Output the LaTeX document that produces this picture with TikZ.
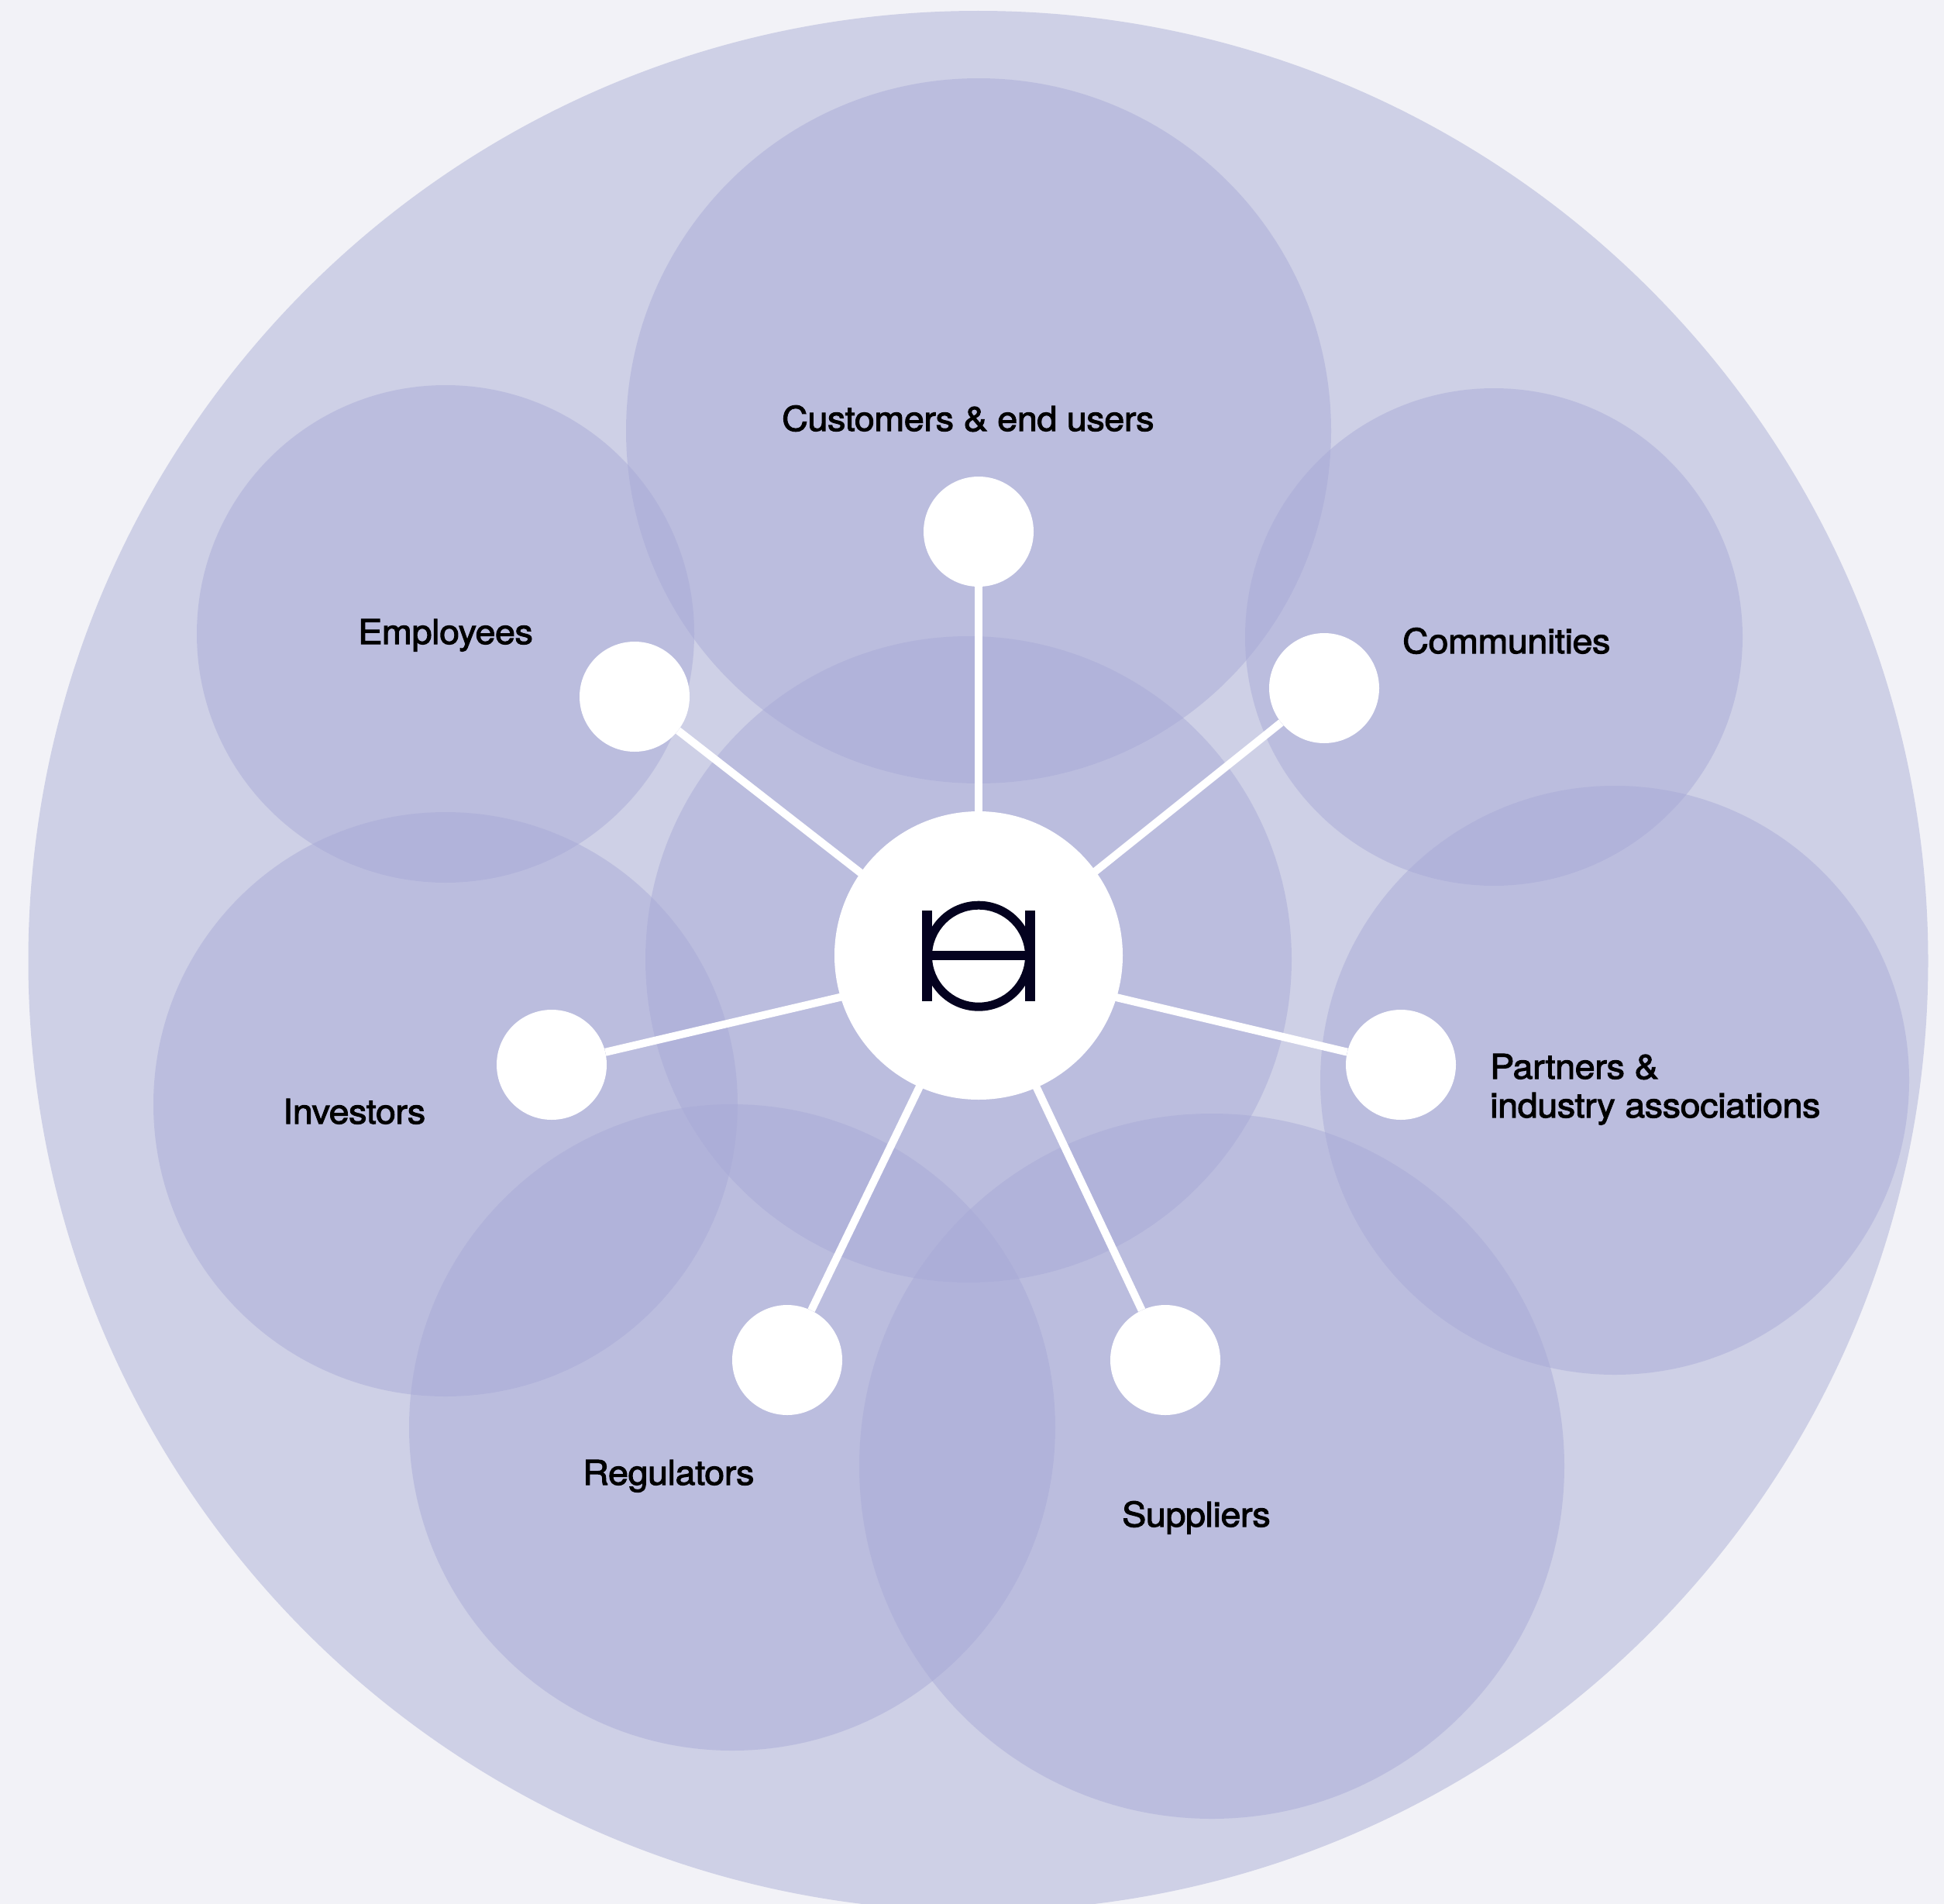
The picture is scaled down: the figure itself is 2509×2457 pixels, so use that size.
\documentclass[tikz,border=0pt]{standalone}
\usepackage{fontspec}
\usepackage{xcolor}
\setmainfont{TeX Gyre Heros}[FakeBold=2.4,FakeStretch=1.06,LetterSpace=-0.9]
\definecolor{paper}{HTML}{F2F2F7}
\definecolor{outerblob}{HTML}{CED0E6}
\definecolor{innerblob}{HTML}{A6A8D6}
\definecolor{ink}{HTML}{04021F}
\begin{document}
\begin{tikzpicture}[
                x=1pt, y=-1pt,
                every node/.append style = {inner sep=0pt},
                blob/.style = {circle, fill=innerblob, fill opacity=0.45, minimum size=2*#1},
                dot/.style = {circle, fill=white, minimum size=142pt},
                spoke/.style = {draw=white, line width=10pt},
                tag/.style = {anchor=base west, font=\fontsize{44}{50}\selectfont, text=black, align=left}]
            \useasboundingbox (0,0) rectangle (2509,2457);
            \fill[paper] (0,0) rectangle (2509,2457);
            \clip (0,0) rectangle (2509,2457);
            \node[circle, fill=outerblob, minimum size=2452pt] (outer) at (1262.5,1240) {};
            \foreach \blobname/\x/\y/\r in {customersblob/1263/556/455, employeesblob/575/818/321,
                communitiesblob/1928/822/321, coreblob/1250/1238/417, investorsblob/575/1425/377,
                partnersblob/2084/1394/380, regulatorsblob/945/1842/417, suppliersblob/1564/1892/455}
                \node[blob=\r pt] (\blobname) at (\x,\y) {};
            \coordinate (root) at (1263,1245);
            \foreach \dotname/\x/\y in {customers/1263/686, employees/819/899, communities/1709/888,
                partners/1808/1374, investors/712/1374, regulators/1016/1755, suppliers/1504/1755} {
                \node[dot] (\dotname) at (\x,\y) {};
                \draw[spoke] (root) -- (\dotname);
            }
            \node[circle, fill=white, minimum size=372pt] (hub) at (1263,1233) {};
            \node[tag] (customerstag) at (1009,556) {Customers \& end users};
            \node[tag] (employeestag) at (462,831) {Employees};
            \node[tag] (communitiestag) at (1810,843) {Communities};
            \node[tag] (partnerstag) at (1923,1442) {Partners \&\\industry associations};
            \node[tag] (investorstag) at (365,1450) {Investors};
            \node[tag] (regulatorstag) at (752,1916) {Regulators};
            \node[tag] (supplierstag) at (1448,1970) {Suppliers};
            \fill[ink, even odd rule] (1263,1233.7) circle (71) (1263,1233.7) circle (60);
            \fill[ink] (1190.3,1175) rectangle (1202.7,1291.7);
            \fill[ink] (1323.3,1175) rectangle (1335.7,1291.7);
            \fill[ink] (1202.7,1227.3) rectangle (1323.3,1239.3);
            \end{tikzpicture}
\end{document}
